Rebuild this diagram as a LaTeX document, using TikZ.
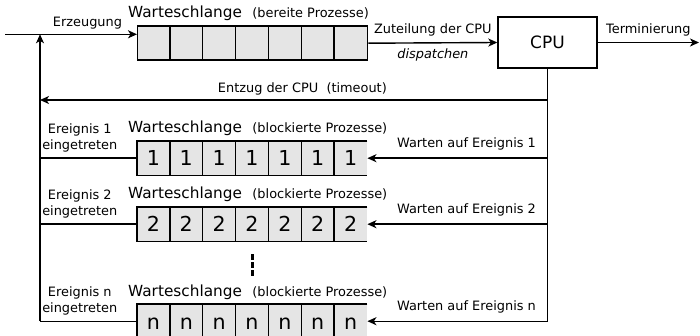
\documentclass[tikz,border=0pt]{standalone}
\usepackage{fontspec}
\setmainfont{DejaVu Sans}
\usetikzlibrary{arrows.meta,positioning}
\newcommand{\klein}{\fontsize{12.9}{16}\selectfont}
\newcommand{\mittel}{\fontsize{15.3}{18}\selectfont}

\begin{document}
\begin{tikzpicture}[x=1pt,y=-1pt,
		linie/.style={line width=1.4pt},
		pfeil/.style={linie,-{Stealth[length=9pt,width=8pt,inset=2.5pt]}},
		beschr/.style={font=\klein,inner sep=0pt},
		titel/.style={anchor=base west,inner sep=0pt,font=\mittel},
		schlange/.style={anchor=north west,minimum width=230pt,minimum height=34pt,inner sep=0pt,fill=black!10}]
	\useasboundingbox (0,0) rectangle (700,336);

	% bereite Prozesse
	\node[schlange,draw,linie] (bereit) at (137,25.5) {};
	\foreach \i in {1,...,6}
		\draw[linie] (137+\i*32.857,25.5) -- (137+\i*32.857,59.5);
	\node[titel] (tbereit) at (128,18) {Warteschlange\hspace{10.5pt}{\klein(bereite Prozesse)}};

	\node[draw,linie,minimum width=99pt,minimum height=51pt,font=\fontsize{17}{20}\selectfont] (cpu) at (547.5,42.5) {CPU};
	\coordinate (eingang) at (5,34.3);
	\coordinate (ausgang) at (699,42.5);
	\coordinate (links) at (40,321);
	\coordinate (entzug) at (40,100);

	\draw[pfeil] (eingang) -- (eingang -| bereit.west) node[beschr,pos=0.625,above=4.3pt]{Erzeugung};
	\draw[pfeil] (bereit.east) -- (cpu.west) node[beschr,midway,above=6pt]{Zuteilung der CPU} node[beschr,midway,below=5.5pt]{\itshape dispatchen};
	\draw[pfeil] (cpu.east) -- (ausgang) node[beschr,midway,above=6pt]{Terminierung};
	\draw[pfeil] (cpu.south |- entzug) -- (entzug) node[beschr,pos=0.483,above=4.5pt]{Entzug der CPU\ \ (timeout)};
	\draw[linie] (cpu.south) -- (cpu.south |- links);
	\draw[pfeil] (links) -- (links |- eingang);

	% blockierte Prozesse
	\foreach \k/\y in {1/141,2/207,n/304}{
		\node[schlange] (w\k) at (137,\y) {};
		\draw[linie] (w\k.north east) -- (w\k.north west) -- (w\k.south west) -- (w\k.south east);
		\foreach \i in {1,...,6}
			\draw[linie] (137+\i*32.857,\y) -- (137+\i*32.857,\y+34);
		\foreach \i in {1,...,7}
			\node[anchor=base,inner sep=0pt,font=\fontsize{20.6}{24}\selectfont] (z\k-\i) at (137-16.43+\i*32.857,\y+25) {\k};
		\node[titel] (t\k) at (128,\y-8) {Warteschlange\hspace{10.5pt}{\klein(blockierte Prozesse)}};
		\draw[pfeil] (cpu.south |- w\k.east) -- (w\k.east) node[beschr,pos=0.45,above=7pt]{Warten auf Ereignis \k};
		\draw[linie] (w\k.west) -- (w\k.west -| links) node[beschr,pos=0.59,above=5.5pt,align=center]{Ereignis \k\\eingetreten};
	}
	\draw[line width=3pt,dash pattern=on 5.5pt off 2.7pt] (252.5,254) -- (252.5,276.5);
\end{tikzpicture}
\end{document}
